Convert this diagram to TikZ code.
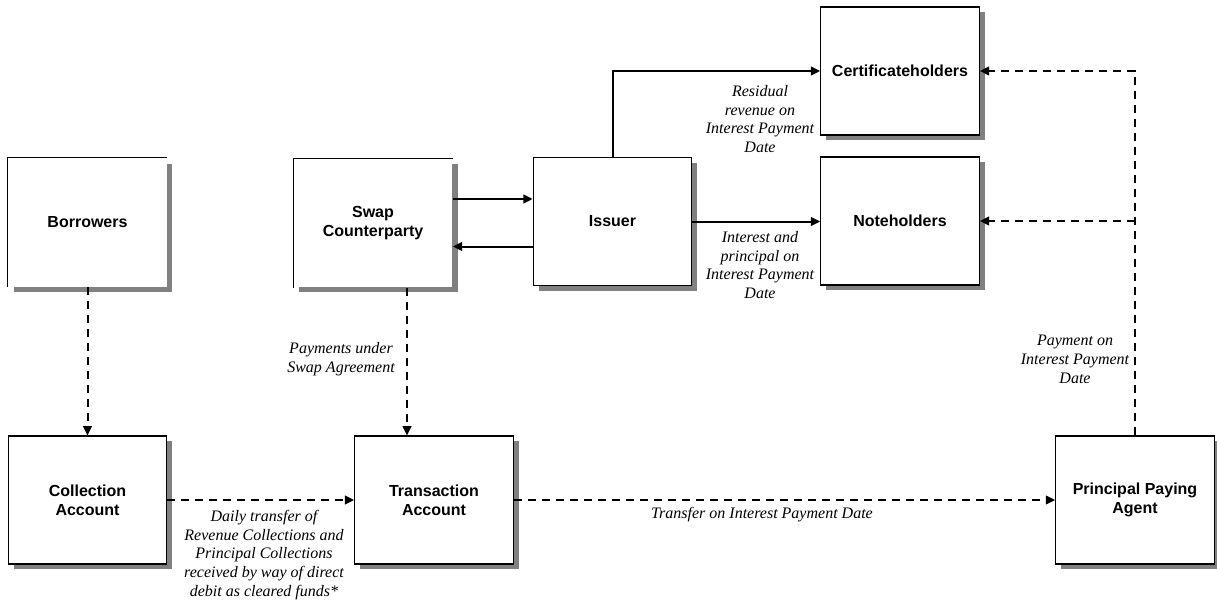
\documentclass[tikz,border=0pt]{standalone}
\usepackage{fontspec}
\setmainfont{Liberation Serif}
\setsansfont{Liberation Sans}
\usetikzlibrary{arrows.meta, positioning, shadows}

\begin{document}
\begin{tikzpicture}[
    x=0.75pt, y=-0.75pt,
    box/.style={rectangle, draw, line width=0.8pt, fill=white, minimum width=119pt, minimum height=96pt, align=center,
        font={\fontsize{12}{14}\selectfont\sffamily\bfseries},
        drop shadow={shadow xshift=4pt, shadow yshift=-4pt, fill=black!50, opacity=1}},
    openbox/.style={box, draw=none},
    lbl/.style={align=center, inner sep=0pt, font={\fontsize{12}{14.2}\selectfont\itshape}},
    sline/.style={line width=1.5pt, -{Triangle[length=7pt, width=6.5pt]}},
    dline/.style={sline, dash pattern=on 6pt off 4.5pt}
]
\useasboundingbox (0,0) rectangle (1217,606);

\node (borrow) [openbox] at (87.5,222.5) {Borrowers};
\node (swap)   [openbox] at (373,223) {Swap\\Counterparty};
\node (issuer) [box] at (612.5,221.5) {Issuer};
\node (cert)   [box] at (900,71) {Certificateholders};
\node (notes)  [box] at (900,221) {Noteholders};
\node (coll)   [box] at (87.5,500) {Collection\\Account};
\node (trans)  [box] at (434,500) {Transaction\\Account};
\node (ppa)    [box] at (1135,500) {Principal Paying\\Agent};

% only top and left edges show on these two
\draw [line width=0.8pt] (borrow.south west) |- (borrow.north east);
\draw [line width=0.8pt] (swap.south west) |- (swap.north east);

\node (lresid)  [lbl] at (760,119) {Residual\\revenue on\\Interest Payment\\Date};
\node (lint)    [lbl] at (760,265) {Interest and\\principal on\\Interest Payment\\Date};
\node (lswap)   [lbl] at (341,359) {Payments under\\Swap Agreement};
\node (ldaily)  [lbl] at (264,555) {Daily transfer of\\Revenue Collections and\\Principal Collections\\received by way of direct\\debit as cleared funds*};
\node (ltransf) [lbl] at (762,515) {Transfer on Interest Payment Date};
\node (lpay)    [lbl] at (1075,359) {Payment on\\Interest Payment\\Date};

\draw [dline] (borrow) -- (coll);
\draw [dline] (coll) -- (trans);
\draw [dline] ([xshift=25.5pt]swap.south) -- ([xshift=25.5pt]swap.south |- trans.north);
\draw [sline] ([yshift=18pt]swap.east) -- ([yshift=18pt]swap.east -| issuer.west);
\draw [sline] ([yshift=-18.75pt]issuer.west) -- ([yshift=-18.75pt]issuer.west -| swap.east);
\draw [sline] (issuer.east) -- (issuer.east -| notes.west);
\draw [sline] (issuer.north) |- (cert.west);
\draw [dline] (trans) -- (ppa);

\coordinate (split) at (ppa.north |- notes.east);
\draw [dline] (ppa.north) -- (split) |- (cert.east);
\draw [dline] (split) -- (notes.east);

\end{tikzpicture}
\end{document}
